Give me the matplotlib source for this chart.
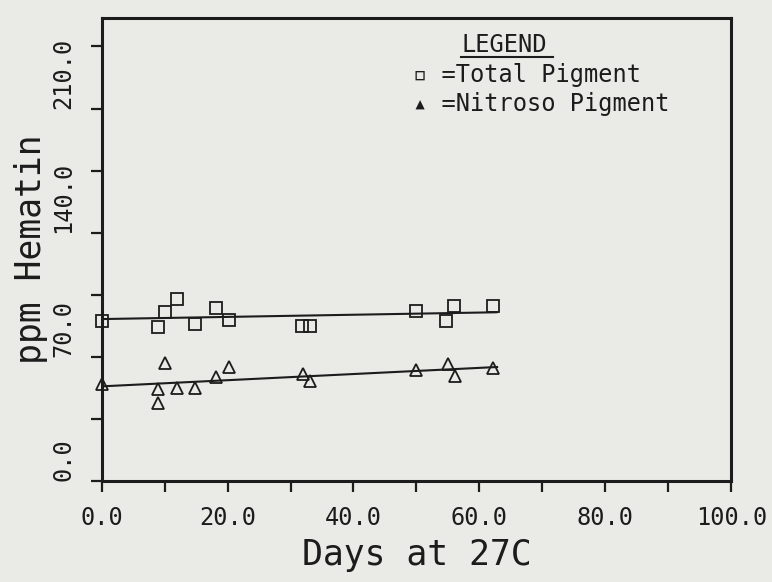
import numpy as np
import matplotlib
matplotlib.use("Agg")
import matplotlib.pyplot as plt

# --- DATOS ---
dias_total = [0.0, 8.9, 10.0, 12.0, 14.9, 18.1, 20.2, 31.9, 33.1, 50.0, 54.7, 56.0, 62.1]
total_pigment = [90.3, 86.6, 95.4, 102.6, 88.5, 97.3, 90.7, 87.5, 87.5, 96.0, 90.0, 98.4, 98.8]

dias_nitroso = [0.0, 8.9, 8.9, 10.1, 12.0, 14.9, 18.1, 20.2, 32.0, 33.1, 50.0, 55.0, 56.1, 62.2]
nitroso_pigment = [54.6, 51.8, 43.9, 66.5, 52.7, 52.7, 58.7, 64.0, 60.6, 56.5, 62.5, 66.2, 59.1, 63.6]

x_ticks = [0, 20, 40, 60, 80, 100]
x_labels = ["0.0", "20.0", "40.0", "60.0", "80.0", "100.0"]
y_ticks = [0, 70, 140, 210]
y_labels = ["0.0", "70.0", "140.0", "210.0"]

# --- ESTILO ---
fondo = "#eaeae6"
tinta = "#1c1c1c"
mono = ["DejaVu Sans Mono", "DejaVu Sans"]

fig = plt.figure(figsize=(7.72, 5.82), dpi=100, facecolor=fondo)
ax = fig.add_axes([0.1315, 0.1735, 0.816, 0.7955], facecolor=fondo)

# rectas de regresion (minimos cuadrados sobre los puntos)
for xs, ys in [(dias_total, total_pigment), (dias_nitroso, nitroso_pigment)]:
    m, b = np.polyfit(xs, ys, 1)
    xl = np.array([0, max(xs) + 0.6])
    ax.plot(xl, m * xl + b, color=tinta, lw=1.5, zorder=2)

ax.plot(dias_total, total_pigment, linestyle="none", marker="s", ms=8.5,
        mfc="none", mec=tinta, mew=1.3, clip_on=False, zorder=3)
ax.plot(dias_nitroso, nitroso_pigment, linestyle="none", marker="^", ms=8.5,
        mfc="none", mec=tinta, mew=1.3, clip_on=False, zorder=3)

ax.set_xlim(0, 100)
ax.set_ylim(0, 261)

ax.set_xticks(x_ticks)
ax.set_xticklabels(x_labels, family=mono, fontsize=17, color=tinta)
ax.set_xticks(np.arange(10, 100, 20), minor=True)
ax.set_yticks(y_ticks)
ax.set_yticklabels(y_labels, family=mono, fontsize=17, color=tinta,
                   rotation=90, va="bottom")
ax.set_yticks([35, 105, 175, 245], minor=True)

ax.tick_params(which="both", direction="out", length=8, width=1.6, color=tinta)
ax.tick_params(axis="x", which="major", pad=10)
ax.tick_params(axis="y", which="major", pad=11)

for s in ax.spines.values():
    s.set_linewidth(2.2)
    s.set_color(tinta)

ax.set_xlabel("Days at 27C", family=mono, fontsize=25, color=tinta, labelpad=6)
ax.set_ylabel("ppm Hematin", family=mono, fontsize=25, color=tinta, labelpad=2)

# --- LEYENDA (como texto, igual que el original) ---
ax.text(0.572, 0.942, "LEGEND", transform=ax.transAxes, family=mono,
        fontsize=17, color=tinta, ha="left", va="center")
ax.plot([0.570, 0.716], [0.915, 0.915], transform=ax.transAxes,
        color=tinta, lw=1.5, clip_on=False)
ax.text(0.495, 0.877, "\u25ab =Total Pigment", transform=ax.transAxes,
        family=mono, fontsize=17, color=tinta, ha="left", va="center")
ax.text(0.495, 0.814, "\u25b4 =Nitroso Pigment", transform=ax.transAxes,
        family=mono, fontsize=17, color=tinta, ha="left", va="center")

fig.savefig("out.png", dpi=100, facecolor=fondo)
